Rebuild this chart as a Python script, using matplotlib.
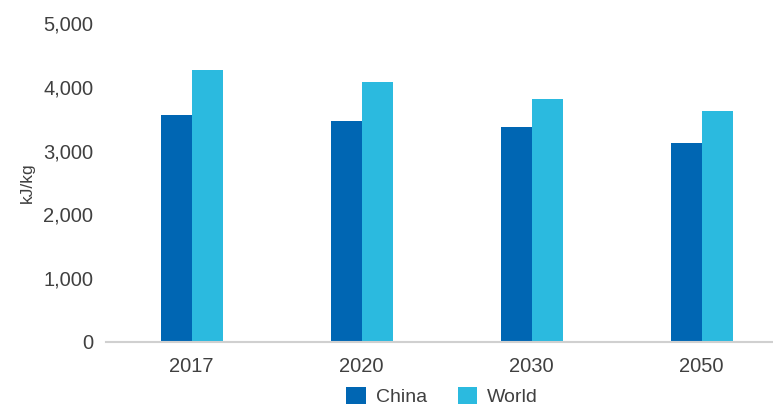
import matplotlib.pyplot as plt
import numpy as np

years = ['2017', '2020', '2030', '2050']
china = [3560, 3465, 3370, 3120]
world = [4265, 4075, 3810, 3620]

c_china = '#0066b3'
c_world = '#2bbadf'
txt = '#404040'

plt.rcParams['font.family'] = ['Liberation Sans', 'DejaVu Sans']

fig = plt.figure(figsize=(7.73, 4.09), dpi=100)
ax = fig.add_axes([0.137, 0.164, 0.863, 0.78])

x = np.arange(len(years))
w = 0.182
ax.bar(x - w/2, china, w, color=c_china, label='China')
ax.bar(x + w/2, world, w, color=c_world, label='World')

ax.set_xlim(-0.505, 3.42)
ax.set_ylim(0, 5000)
ax.set_yticks(range(0, 5001, 1000))
ax.set_yticklabels(['{:,}'.format(v) for v in range(0, 5001, 1000)])
ax.set_xticks(x)
ax.set_xticklabels(years)
ax.tick_params(axis='both', length=0, labelsize=14.5, colors=txt)
ax.tick_params(axis='y', pad=9)
ax.tick_params(axis='x', pad=11)

for s in ['top', 'right', 'left']:
    ax.spines[s].set_visible(False)
ax.spines['bottom'].set_color('#d0d0d0')
ax.spines['bottom'].set_linewidth(1.5)

ax.set_ylabel('kJ/kg', fontsize=12.5, color=txt, labelpad=6)

fig.legend(loc='center', bbox_to_anchor=(0.572, 0.03), ncol=2, frameon=False,
           fontsize=14, handlelength=1.0, handleheight=1.0, columnspacing=1.6,
           handletextpad=0.5, labelcolor=txt, borderpad=0.2)

fig.savefig('out.png', dpi=100)
